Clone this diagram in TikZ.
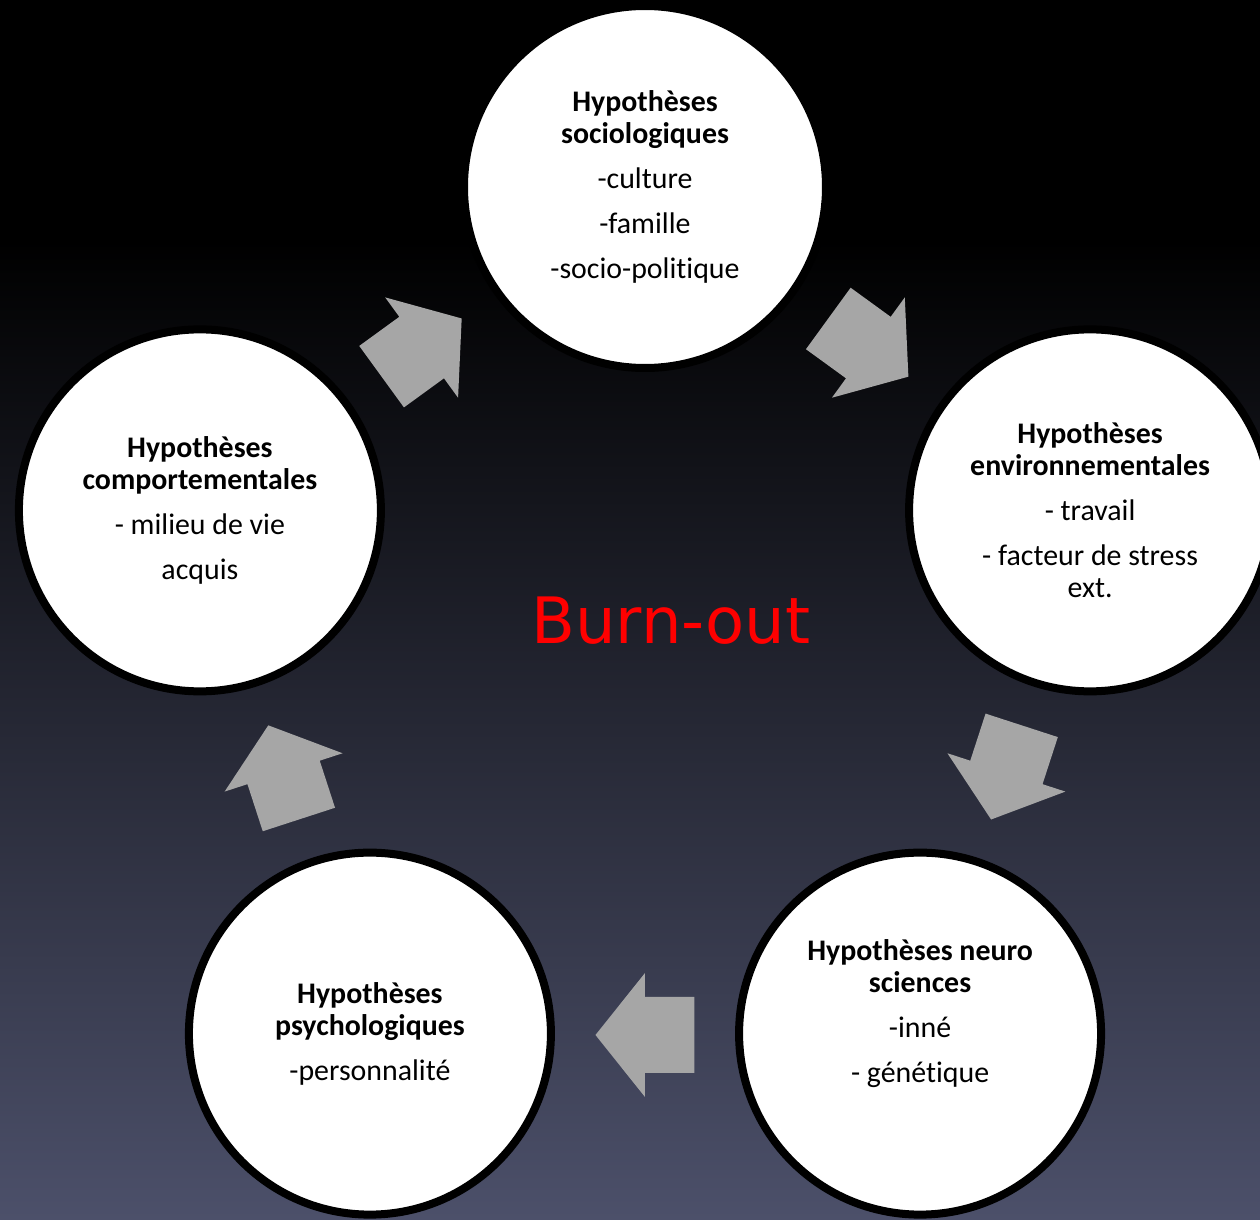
\documentclass[tikz,border=0pt]{standalone}
\usepackage{fontspec}
\setmainfont{Carlito}[Ligatures=NoCommon]
\newfontfamily\burnfont{DejaVu Sans}
\usetikzlibrary{calc}
\definecolor{arrowgray}{RGB}{166,166,166}
\definecolor{bgmid}{RGB}{36,36,60}
\definecolor{bgbottom}{RGB}{76,80,106}
\tikzset{
  hypo/.style={circle, draw=black, fill=white, line width=0.08cm, minimum size=3.62cm,
    inner sep=0pt, align=center, font=\fontsize{8.5}{9.1}\selectfont},
}
\newcommand{\hgap}{\\[3.7pt]}

\begin{document}
\begin{tikzpicture}
        \clip (0,0) rectangle (12.6,12.2);
        \fill[black] (0,0) rectangle (12.6,12.2);
        \shade[top color=black, middle color=bgmid, bottom color=bgbottom] (0,0) rectangle (12.6,9.8);
        \coordinate (O) at (6.45,5.65);
        % the five circles
        \node[hypo] (socio) at ($(O)+(90:4.68)$) {\textbf{Hypothèses}\\\textbf{sociologiques}\hgap -culture\hgap -famille\hgap -socio-politique};
        \node[hypo] (envir) at ($(O)+(18:4.68)$) {\textbf{Hypothèses}\\\textbf{environnementales}\hgap - travail\hgap - facteur de stress\\ext.};
        \node[hypo] (neuro) at ($(O)+(-54:4.68)$) {\textbf{Hypothèses neuro}\\\textbf{sciences}\hgap -inné\hgap - génétique\hgap ~};
        \node[hypo] (psycho) at ($(O)+(-126:4.68)$) {\textbf{Hypothèses}\\\textbf{psychologiques}\hgap -personnalité};
        \node[hypo] (compor) at ($(O)+(162:4.68)$) {\textbf{Hypothèses}\\\textbf{comportementales}\hgap - milieu de vie\hgap acquis};
        % arrows
        \foreach \a in {126,54,-18,-90,-162}
          \fill[arrowgray, shift={($(O)+(\a:3.8)$)}, rotate=\a-90]
            (-0.495,-0.38) -- (0,-0.38) -- (0,-0.62) -- (0.495,0) -- (0,0.62) -- (0,0.38) -- (-0.495,0.38) -- cycle;
        \node (burn) at (6.71,5.99) {\burnfont\fontsize{18.2}{20}\selectfont\color{red}Burn-out};
\end{tikzpicture}
\end{document}
